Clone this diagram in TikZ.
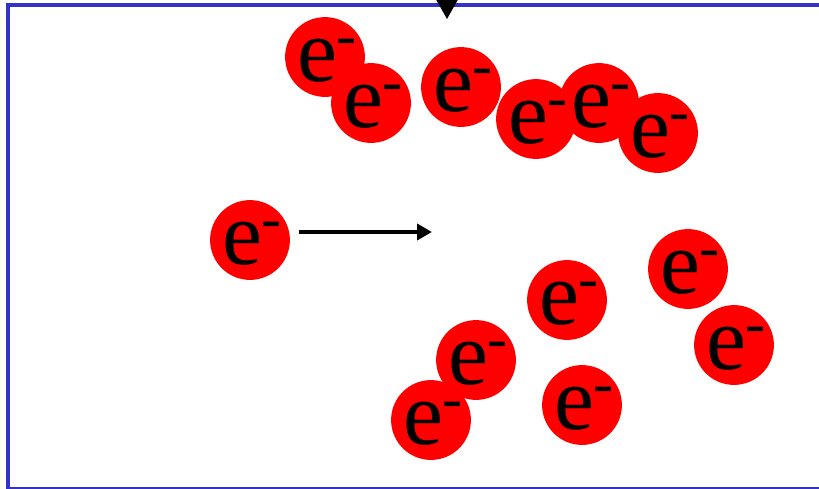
\documentclass[tikz,border=0pt]{standalone}
\usepackage{fontspec}
\setmainfont{Liberation Serif}
\usetikzlibrary{arrows.meta}
\definecolor{boxblue}{RGB}{51,51,204}
\newcommand{\elec}{\kern4pt e\raisebox{26pt}{\fontsize{60}{60}\selectfont -}}
\tikzset{electron/.style={circle, fill=red, minimum size=75pt, inner sep=0pt, text height=48pt, text depth=0pt, font=\fontsize{90}{90}\selectfont},
% thick black arrow
flow/.style={-{Triangle[length=15pt,width=16pt]}, line width=4.5pt}}

\begin{document}
\begin{tikzpicture}[x=1pt, y=-1pt]
    \clip (0,0) rectangle (819,488);
    \draw[boxblue, line width=4pt] (8,5) rectangle (840,489);
    \coordinate (above) at (447,-40);
    \coordinate (entry) at (447,19);
    \draw[-{Triangle[length=20pt,width=22pt]}, line width=2pt] (above) -- (entry);
    % upper group
    \node[electron] (e1) at (325,57) {\elec};
    \node[electron] (e2) at (371,103) {\elec};
    \node[electron] (e3) at (461,87) {\elec};
    \node[electron] (e5) at (599,103) {\elec};
    \node[electron] (e4) at (536,119) {\elec};
    \node[electron] (e6) at (658,133) {\elec};
    % incoming
    \node[electron] (e7) at (250,240) {\elec};
    \coordinate (aim) at (432,232);
    \draw[flow] (e7.east) ++(9,-8) -- (aim);
    % lower group
    \node[electron] (e8) at (688,269) {\elec};
    \node[electron] (e9) at (567,300) {\elec};
    \node[electron] (e10) at (734,345) {\elec};
    \node[electron] (e11) at (476,360) {\elec};
    \node[electron] (e12) at (582,405) {\elec};
    \node[electron] (e13) at (431,420) {\elec};
\end{tikzpicture}
\end{document}
